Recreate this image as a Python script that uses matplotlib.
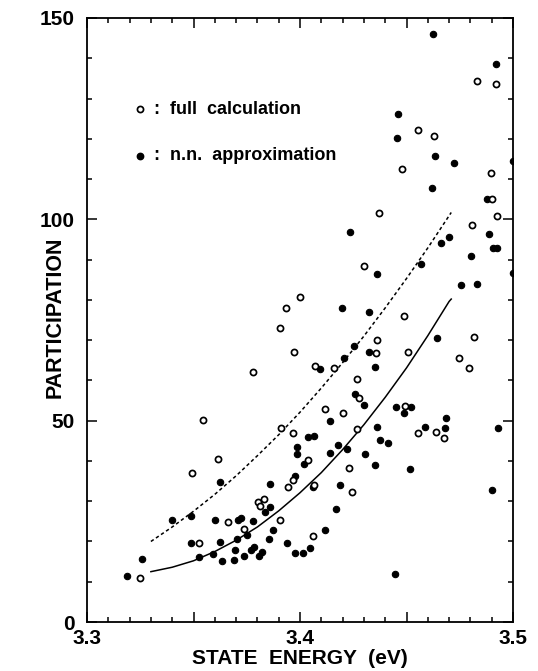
import matplotlib
matplotlib.use("Agg")
import matplotlib.pyplot as plt
from matplotlib.ticker import FixedLocator, MultipleLocator

plt.rcParams['font.family'] = ['Liberation Sans', 'DejaVu Sans']
plt.rcParams['font.weight'] = 'bold'

# ---- data: full calculation (open circles) ----
full_energy = [3.4830, 3.4922, 3.4555, 3.4629, 3.4479, 3.4895, 3.4903, 3.4369, 3.4923, 3.4806,
               3.4300, 3.4001, 3.3936, 3.4487, 3.3905, 3.4363, 3.4817, 3.3973, 3.4358, 3.4508,
               3.4745, 3.4795, 3.3781, 3.4070, 3.4158, 3.4268, 3.4278, 3.4116, 3.4200, 3.4493,
               3.3545, 3.3911, 3.3966, 3.4268, 3.4555, 3.4637, 3.4677, 3.3614, 3.4036, 3.3495,
               3.3969, 3.3945, 3.4066, 3.4231, 3.4244, 3.3804, 3.3831, 3.3812, 3.3906, 3.3661,
               3.3737, 3.4062, 3.3524, 3.3249]
full_part = [134.3, 133.6, 122.1, 120.8, 112.6, 111.4, 105.0, 101.6, 100.8, 98.5,
             88.3, 80.6, 77.9, 76.1, 73.1, 70.0, 70.8, 67.0, 66.8, 67.1,
             65.6, 63.2, 62.2, 63.7, 63.0, 60.3, 55.7, 52.8, 52.0, 53.7,
             50.2, 48.1, 46.9, 48.0, 47.0, 47.1, 45.6, 40.5, 40.2, 37.0,
             35.3, 33.5, 34.0, 38.2, 32.2, 29.9, 30.5, 28.8, 25.3, 24.8,
             23.2, 21.4, 19.7, 10.9]

# ---- data: n.n. approximation (filled circles) ----
nn_energy = [3.4623, 3.4919, 3.4459, 3.4454, 3.4634, 3.4722, 3.4999, 3.4618, 3.4877, 3.4235,
             3.4889, 3.4700, 3.4662, 3.4905, 3.4923, 3.4801, 3.4568, 3.4999, 3.4363, 3.4754,
             3.4832, 3.4196, 3.4324, 3.4642, 3.4252, 3.4324, 3.4205, 3.4094, 3.4351, 3.4257,
             3.4300, 3.4139, 3.4451, 3.4520, 3.4490, 3.4687, 3.4039, 3.4067, 3.4363, 3.4376,
             3.4412, 3.4587, 3.4682, 3.4930, 3.3987, 3.3985, 3.4020, 3.4141, 3.4177, 3.4219,
             3.4307, 3.4351, 3.4516, 3.3975, 3.4060, 3.4188, 3.3859, 3.4901, 3.4169, 3.4119,
             3.4047, 3.3978, 3.4013, 3.4446, 3.3938, 3.3875, 3.3854, 3.3861, 3.3836, 3.3809,
             3.3822, 3.3623, 3.3398, 3.3486, 3.3601, 3.3710, 3.3723, 3.3779, 3.3750, 3.3703,
             3.3624, 3.3487, 3.3526, 3.3593, 3.3635, 3.3692, 3.3695, 3.3738, 3.3770, 3.3785,
             3.3257, 3.3186]
nn_part = [146.0, 138.6, 126.1, 120.3, 115.7, 114.0, 114.4, 107.9, 105.0, 96.8,
           96.4, 95.6, 94.0, 92.8, 92.8, 90.9, 88.9, 86.6, 86.3, 83.7,
           83.9, 78.1, 77.0, 70.5, 68.5, 67.1, 65.5, 62.8, 63.4, 56.6,
           53.9, 50.0, 53.3, 53.3, 52.0, 50.7, 46.0, 46.2, 48.4, 45.2,
           44.5, 48.4, 48.1, 48.1, 43.4, 41.6, 39.2, 42.0, 43.9, 42.9,
           41.7, 38.9, 38.0, 36.3, 33.5, 33.9, 34.3, 32.7, 28.1, 22.8,
           18.5, 17.2, 17.1, 11.8, 19.6, 22.9, 20.5, 28.5, 27.4, 16.4,
           17.3, 34.8, 25.3, 26.3, 25.3, 25.3, 25.8, 25.2, 21.6, 20.5,
           19.9, 19.7, 16.2, 16.9, 15.1, 15.4, 17.9, 16.4, 17.9, 18.7,
           15.6, 11.5]

# ---- fitted trend curves ----
curve_energy = [3.330, 3.340, 3.350, 3.360, 3.370, 3.380, 3.390, 3.400,
                3.410, 3.420, 3.430, 3.440, 3.450, 3.460, 3.470, 3.471]
full_curve = [20.0, 23.6, 27.5, 31.7, 36.3, 41.3, 46.5, 52.1,
              58.1, 64.4, 71.0, 78.0, 85.3, 92.9, 100.9, 101.7]
nn_curve = [12.5, 13.6, 15.2, 17.5, 20.3, 23.6, 27.6, 32.1,
            37.1, 42.8, 49.0, 55.8, 63.1, 71.1, 79.6, 80.2]

x_major = [3.3, 3.35, 3.4, 3.45, 3.5]
x_major_labels = ['3.3', '', '3.4', '', '3.5']
y_major = [0, 50, 100, 150]
y_major_labels = ['0', '50', '100', '150']

fig = plt.figure(figsize=(5.38, 6.71), dpi=100)
ax = fig.add_axes([87/538, 1-622/671, 426/538, 604/671])

ax.plot(nn_energy, nn_part, 'o', ms=4.6, mfc='black', mec='black', mew=0.8, zorder=3)
ax.plot(full_energy, full_part, 'o', ms=4.4, mfc='white', mec='black', mew=1.25, zorder=4)
ax.plot(curve_energy, full_curve, color='black', lw=1.1, linestyle=(0, (2.2, 1.8)), zorder=2)
ax.plot(curve_energy, nn_curve, color='black', lw=1.1, zorder=2)

ax.set_xlim(3.3, 3.5)
ax.set_ylim(0, 150)

ax.xaxis.set_major_locator(FixedLocator(x_major))
ax.set_xticklabels(x_major_labels)
ax.xaxis.set_minor_locator(MultipleLocator(0.01))
ax.yaxis.set_major_locator(FixedLocator(y_major))
ax.set_yticklabels(y_major_labels)
ax.yaxis.set_minor_locator(MultipleLocator(10))

ax.tick_params(which='both', direction='in', top=True, right=True, width=1.1)
ax.tick_params(which='major', length=7)
ax.tick_params(which='minor', length=3.8)
ax.tick_params(axis='y', which='major', pad=9, labelsize=15)
ax.tick_params(axis='x', which='major', pad=5, labelsize=15)
for lab in ax.get_xticklabels() + ax.get_yticklabels():
    lab.set_fontweight('bold')
for s in ax.spines.values():
    s.set_linewidth(1.3)

ax.text(0.5, -0.06, 'STATE  ENERGY  (eV)', transform=ax.transAxes, ha='center', va='center',
        fontsize=15, fontweight='bold')
ax.text(-0.074, 0.505, 'PARTICIPATION', transform=ax.transAxes, ha='center', va='center',
        rotation=90, fontsize=15.5, fontweight='bold')

# legend
ax.plot([0.1244], [0.8493], 'o', ms=4.4, mfc='white', mec='black', mew=1.25, transform=ax.transAxes)
ax.plot([0.1244], [0.772], 'o', ms=4.6, mfc='black', mec='black', transform=ax.transAxes)
ax.text(0.155, 0.8493, ':', transform=ax.transAxes, ha='left', va='center', fontsize=13, fontweight='bold')
ax.text(0.155, 0.772, ':', transform=ax.transAxes, ha='left', va='center', fontsize=13, fontweight='bold')
ax.text(0.195, 0.8493, 'full  calculation', transform=ax.transAxes, ha='left', va='center',
        fontsize=13, fontweight='bold')
ax.text(0.195, 0.772, 'n.n.  approximation', transform=ax.transAxes, ha='left', va='center',
        fontsize=13, fontweight='bold')

fig.savefig('out.png', dpi=100)
